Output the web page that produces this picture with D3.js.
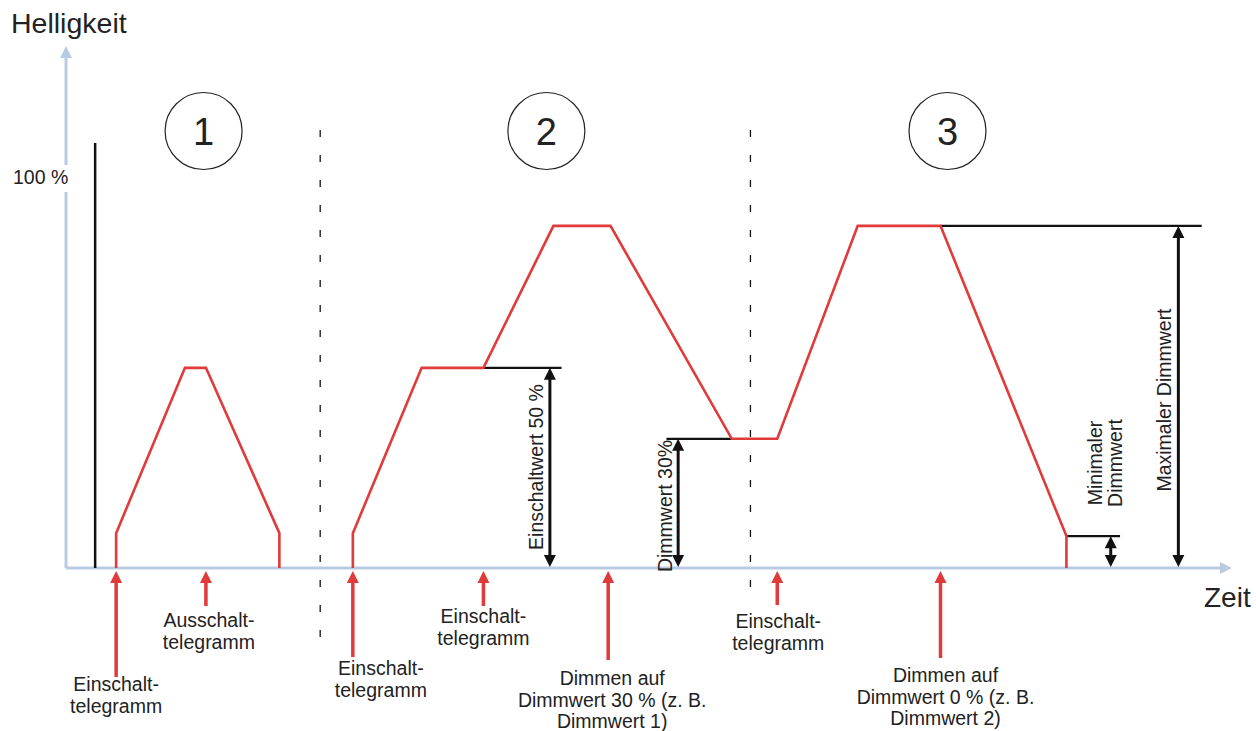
<!DOCTYPE html>
<html>
<meta charset="utf-8">
<head>
	<title>Helligkeit / Zeit</title>
	<script src="https://cdn.jsdelivr.net/npm/d3@7/dist/d3.min.js" charset="utf-8"></script>
	<style>
		body { margin: 0; background: #fff; }
		text { font-family: "Liberation Sans", Arial, sans-serif; fill: #222; }
	</style>
</head>
<body>
	<script type="text/javascript">
	// brightness curves (time 0..100, brightness 0..100 %)
	var curveOne = [[4.3, 0], [4.3, 8.2], [10.2, 47.1], [12.0, 47.1], [18.3, 8.2], [18.3, 0]];
	var curveTwo = [[24.6, 0], [24.6, 8.2], [30.5, 47.1], [35.8, 47.1], [41.8, 80.5], [46.7, 80.5],
		[57.1, 30.4], [61.0, 30.4], [67.9, 80.5], [75.0, 80.5], [85.8, 7.5], [85.8, 0]];

	// 100 % reference bar
	var fullBar = {t: 2.5, value: 100};

	// phase separators and phase numbers
	var separators = [21.8, 58.7];
	var phases = ["1", "2", "3"];
	var phaseTimes = [11.8, 41.2, 75.6];

	// telegrams (red arrows)
	var telegramTimes = [4.3, 12.0, 24.6, 35.8, 46.5, 61.0, 75.0];
	var telegramLabels = [
		["Einschalt-", "telegramm"],
		["Ausschalt-", "telegramm"],
		["Einschalt-", "telegramm"],
		["Einschalt-", "telegramm"],
		["Dimmen auf", "Dimmwert 30 % (z. B.", "Dimmwert 1)"],
		["Einschalt-", "telegramm"],
		["Dimmen auf", "Dimmwert 0 % (z. B.", "Dimmwert 2)"]
	];

	// dimension arrows (black)
	var dimTimes = [41.5, 52.5, 95.4, 89.6];
	var dimValues = [47.1, 30.4, 80.5, 7.5];
	var dimGuideFrom = [35.8, 51.5, 75.0, 85.8];
	var dimGuideTo = [42.5, 57.1, 97.4, 90.4];
	var dimLabels = [["Einschaltwert 50 %"], ["Dimmwert 30%"], ["Maximaler Dimmwert"], ["Minimaler", "Dimmwert"]];

	// layout (pixels)
	var W = 1256, H = 731;
	var x = d3.scaleLinear().domain([0, 100]).range([66, 1232]);
	var y = d3.scaleLinear().domain([0, 100]).range([568, 143]);
	var arrowTail = [677, 606, 657, 606, 660, 605, 658];
	var labelDx = [0, 3, 28, 0, 4, 1, 5];
	var labelDy = [14, 21, 18, 17, 25, 23, 24];
	var dimLabelDx = [[-7], [-6], [-7], [-9, 11]];
	var dimLabelY = [467, 506, 400, 463];

	var red = "#e03a3a", axisCol = "#b9cbe3";

	var svg = d3.select("body").append("svg")
		.attr("width", W)
		.attr("height", H);

	// axes
	svg.append("line").attr("x1", x(0)).attr("y1", y(0)).attr("x2", x(0)).attr("y2", 56)
		.attr("stroke", axisCol).attr("stroke-width", 3);
	svg.append("path").attr("d", "M" + (x(0) - 6) + ",58L" + x(0) + ",46L" + (x(0) + 6) + ",58Z")
		.attr("fill", axisCol);
	svg.append("line").attr("x1", x(0)).attr("y1", y(0)).attr("x2", x(100) - 10).attr("y2", y(0))
		.attr("stroke", axisCol).attr("stroke-width", 3);
	svg.append("path").attr("d", "M" + (x(100) - 12) + "," + (y(0) - 6) + "L" + x(100) + "," + y(0) + "L" + (x(100) - 12) + "," + (y(0) + 6) + "Z")
		.attr("fill", axisCol);

	svg.append("text").attr("x", 11).attr("y", 33).attr("font-size", 28.5).text("Helligkeit");
	svg.append("text").attr("x", 1204).attr("y", 607).attr("font-size", 28).text("Zeit");

	svg.append("rect").attr("x", 10).attr("y", 165).attr("width", 62).attr("height", 27).attr("fill", "#fff");
	svg.append("text").attr("x", 13).attr("y", 184).attr("font-size", 19.5).text("100 %");

	// separators
	svg.selectAll(".sep").data(separators).enter().append("line")
		.attr("x1", d => x(d)).attr("x2", d => x(d))
		.attr("y1", 130).attr("y2", (d, i) => i === 0 ? 642 : 592)
		.attr("stroke", "#111").attr("stroke-width", 1.3)
		.attr("stroke-dasharray", "7,18");

	// phase circles
	var ph = svg.selectAll(".phase").data(phases).enter().append("g")
		.attr("transform", (d, i) => "translate(" + x(phaseTimes[i]) + ",131)");
	ph.append("circle").attr("r", 38.5).attr("fill", "none").attr("stroke", "#222").attr("stroke-width", 1.2);
	ph.append("text").attr("text-anchor", "middle").attr("y", 13.5).attr("font-size", 38).text(d => d);

	// 100 % bar
	svg.append("line").attr("x1", x(fullBar.t)).attr("x2", x(fullBar.t))
		.attr("y1", y(0)).attr("y2", y(fullBar.value))
		.attr("stroke", "#111").attr("stroke-width", 2.5);

	// dimension guides and arrows
	dimTimes.forEach(function (t, i) {
		var yt = y(dimValues[i]), yb = y(0) - 1, xc = x(t);
		svg.append("line").attr("x1", x(dimGuideFrom[i])).attr("x2", x(dimGuideTo[i]))
			.attr("y1", yt).attr("y2", yt).attr("stroke", "#111").attr("stroke-width", 2.2);
		svg.append("line").attr("x1", xc).attr("x2", xc).attr("y1", yt + 10).attr("y2", yb - 10)
			.attr("stroke", "#111").attr("stroke-width", 3);
		svg.append("path").attr("d", "M" + (xc - 6) + "," + (yt + 12) + "L" + xc + "," + yt + "L" + (xc + 6) + "," + (yt + 12) + "Z").attr("fill", "#111");
		svg.append("path").attr("d", "M" + (xc - 6) + "," + (yb - 12) + "L" + xc + "," + yb + "L" + (xc + 6) + "," + (yb - 12) + "Z").attr("fill", "#111");
		dimLabels[i].forEach(function (s, j) {
			var lx = xc + dimLabelDx[i][j];
			svg.append("text").attr("text-anchor", "middle").attr("font-size", 19.5)
				.attr("transform", "translate(" + lx + "," + dimLabelY[i] + ") rotate(-90)")
				.text(s);
		});
	});

	// brightness curves
	var line = d3.line().x(d => x(d[0])).y(d => y(d[1]));
	svg.selectAll(".curve").data([curveOne, curveTwo]).enter().append("path")
		.attr("d", line).attr("fill", "none").attr("stroke", red)
		.attr("stroke-width", 2.6).attr("stroke-linejoin", "miter");

	// telegram arrows
	telegramTimes.forEach(function (t, i) {
		var xc = x(t), tip = y(0) + 3;
		svg.append("line").attr("x1", xc).attr("x2", xc).attr("y1", tip + 10).attr("y2", arrowTail[i])
			.attr("stroke", red).attr("stroke-width", 3.5);
		svg.append("path").attr("d", "M" + (xc - 6) + "," + (tip + 12) + "L" + xc + "," + tip + "L" + (xc + 6) + "," + (tip + 12) + "Z")
			.attr("fill", red);
		var tx = svg.append("text").attr("text-anchor", "middle").attr("font-size", 19.5);
		telegramLabels[i].forEach(function (s, j) {
			tx.append("tspan").attr("x", xc + labelDx[i]).attr("y", arrowTail[i] + labelDy[i] + j * 21.5).text(s);
		});
	});
	</script>
</body>
</html>
